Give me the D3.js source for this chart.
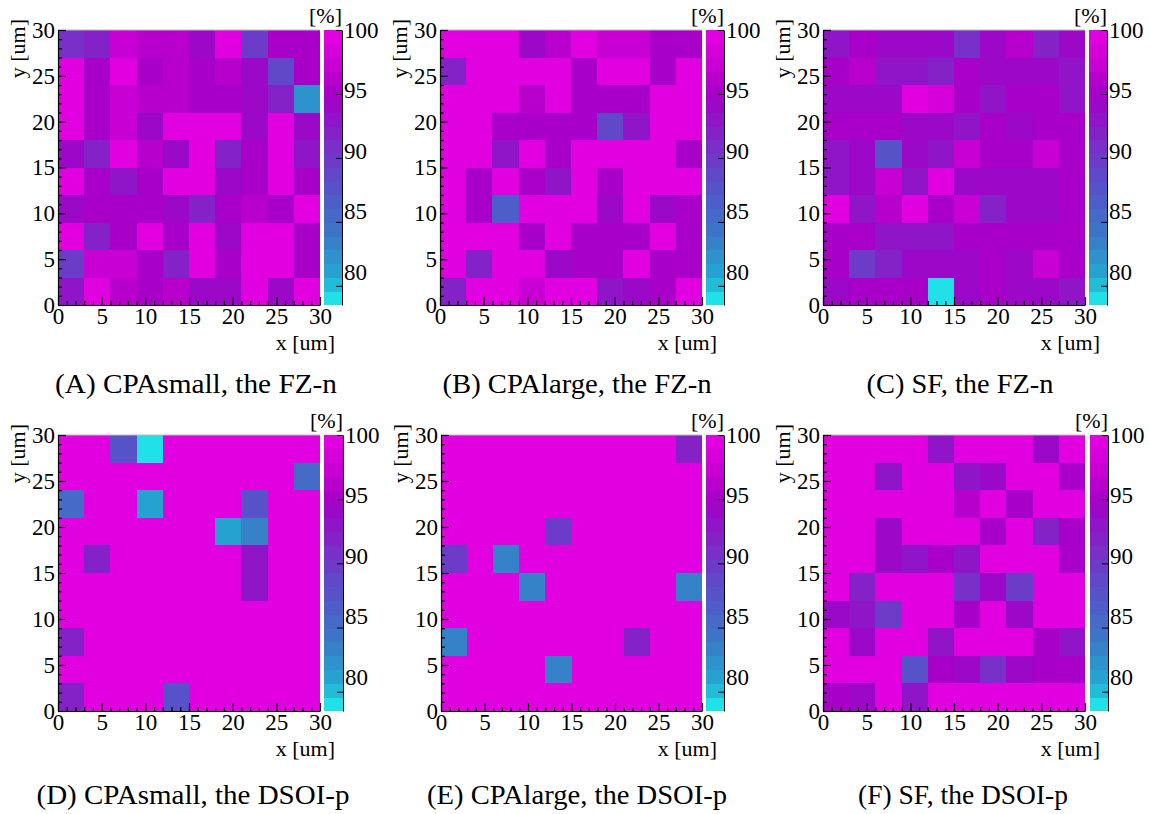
<!DOCTYPE html>
<html>
<head>
<meta charset="utf-8">
<script src="https://cdn.jsdelivr.net/npm/d3@7"></script>
<style>
  html, body { margin: 0; padding: 0; background: #fff; }
  svg { display: block; }
  svg text { font-family: "Liberation Serif", "Times New Roman", Times, serif; fill: #000; }
</style>
</head>
<body>
<svg id="chart" width="1149" height="814"></svg>
<script>
// ---------- data ----------
const xTicks = [0, 5, 10, 15, 20, 25, 30];
const yTicks = [0, 5, 10, 15, 20, 25, 30];
const zTicks = [80, 85, 90, 95, 100];
const zMin = 78.5, zMax = 100, nContours = 20;
const binEdges = [0, 3, 6, 9, 12, 15, 18, 21, 24, 27, 30];
const captions = [
  "(A) CPAsmall, the FZ-n", "(B) CPAlarge, the FZ-n", "(C) SF, the FZ-n",
  "(D) CPAsmall, the DSOI-p", "(E) CPAlarge, the DSOI-p", "(F) SF, the DSOI-p"
];
const xTitle = "x [um]", yTitle = "y [um]", zTitle = "[%]";

// efficiency [%], rows listed from top (y 27-30) to bottom (y 0-3), columns x 0-3 ... 27-30
const effA = [
  [90.5, 92, 97.5, 96.5, 96.5, 94.5, 99.5, 89.5, 95.5, 95.5],
  [99.5, 95.5, 99.5, 95.3, 96.5, 95, 96.5, 94, 89, 95.5],
  [99.5, 95, 97, 96.5, 96.5, 95.5, 95.5, 94.5, 92, 82.5],
  [99.5, 95.5, 97.5, 94.5, 99.5, 99.5, 99.5, 94.5, 99.5, 94],
  [94, 92, 99.5, 96.5, 94.5, 99.5, 91.5, 95, 99.5, 93],
  [99.5, 95.5, 92.5, 95, 99.5, 99.5, 94.5, 95.5, 99.5, 95],
  [94.5, 95.5, 95, 95, 94.5, 91.5, 95, 96.5, 95, 99.5],
  [99.5, 92, 95.5, 99.5, 95.5, 99.5, 94.5, 99.5, 99.5, 95.5],
  [90, 97.5, 97.5, 95.5, 92, 99.5, 95.5, 99.5, 99.5, 95.5],
  [93.5, 99.5, 96.5, 95.5, 96.5, 94.5, 94.5, 99.5, 94, 99.5]
];
const effB = [
  [99.5, 99.5, 99.5, 94, 96.5, 99.5, 97.5, 97.5, 95.5, 95.5],
  [92, 99.5, 99.5, 99.5, 99.5, 95.5, 99.5, 99.5, 95.5, 99.5],
  [99.5, 99.5, 99.5, 96.5, 99.5, 95.5, 95, 95.5, 99.5, 99.5],
  [99.5, 99.5, 95, 95, 95, 95.5, 89, 93.5, 99.5, 99.5],
  [99.5, 99.5, 93.5, 99.5, 95.5, 99.5, 99.5, 99.5, 99.5, 95],
  [99.5, 95, 99.5, 95.5, 92.5, 99.5, 95.5, 99.5, 99.5, 99.5],
  [99.5, 95.5, 87, 99.5, 99.5, 99.5, 94, 99.5, 94.5, 95],
  [99.5, 99.5, 99.5, 95.5, 99.5, 95, 95, 95.5, 99.5, 95],
  [99.5, 91.5, 99.5, 99.5, 94, 95, 95, 99.5, 95, 95],
  [92, 99.5, 99.5, 97, 99.5, 99.5, 93.5, 94, 95.5, 99.5]
];
const effC = [
  [93.5, 95, 94.5, 94, 94.5, 90.5, 94.5, 96.5, 92, 94.5],
  [95.5, 96.5, 93.5, 92.5, 91.5, 95, 94, 94, 94, 93.5],
  [94.5, 94.5, 94.5, 99, 98, 95, 92.5, 95, 95, 93.5],
  [95, 95, 95, 94.5, 94.5, 92.5, 95.5, 94.5, 95.5, 95],
  [93.5, 94, 87.5, 94.5, 93.5, 97.5, 95.5, 95.5, 97.5, 95],
  [93.5, 94, 97.5, 93.5, 99, 94.5, 94.5, 94, 94.5, 95],
  [99, 93.5, 96.5, 99, 95.5, 97.5, 92, 94.5, 94.5, 95.5],
  [95, 95, 93.5, 93.5, 93.5, 95.5, 95.5, 95, 95, 95],
  [95, 90, 92, 94.5, 94.5, 94.5, 95.5, 94.5, 97.5, 95],
  [94, 95, 95, 95, 79, 94.5, 95.5, 94, 94, 93.5]
];
const effD = [
  [99.5, 99.5, 88, 79, 99.5, 99.5, 99.5, 99.5, 99.5, 99.5],
  [99.5, 99.5, 99.5, 99.5, 99.5, 99.5, 99.5, 99.5, 99.5, 86],
  [86, 99.5, 99.5, 81.5, 99.5, 99.5, 99.5, 88, 99.5, 99.5],
  [99.5, 99.5, 99.5, 99.5, 99.5, 99.5, 81, 83.5, 99.5, 99.5],
  [99.5, 92, 99.5, 99.5, 99.5, 99.5, 99.5, 92.5, 99.5, 99.5],
  [99.5, 99.5, 99.5, 99.5, 99.5, 99.5, 99.5, 93.5, 99.5, 99.5],
  [99.5, 99.5, 99.5, 99.5, 99.5, 99.5, 99.5, 99.5, 99.5, 99.5],
  [92, 99.5, 99.5, 99.5, 99.5, 99.5, 99.5, 99.5, 99.5, 99.5],
  [99.5, 99.5, 99.5, 99.5, 99.5, 99.5, 99.5, 99.5, 99.5, 99.5],
  [92, 99.5, 99.5, 99.5, 88, 99.5, 99.5, 99.5, 99.5, 99.5]
];
const effE = [
  [99.5, 99.5, 99.5, 99.5, 99.5, 99.5, 99.5, 99.5, 99.5, 92],
  [99.5, 99.5, 99.5, 99.5, 99.5, 99.5, 99.5, 99.5, 99.5, 99.5],
  [99.5, 99.5, 99.5, 99.5, 99.5, 99.5, 99.5, 99.5, 99.5, 99.5],
  [99.5, 99.5, 99.5, 99.5, 89.5, 99.5, 99.5, 99.5, 99.5, 99.5],
  [89.5, 99.5, 83.5, 99.5, 99.5, 99.5, 99.5, 99.5, 99.5, 99.5],
  [99.5, 99.5, 99.5, 83.5, 99.5, 99.5, 99.5, 99.5, 99.5, 83.5],
  [99.5, 99.5, 99.5, 99.5, 99.5, 99.5, 99.5, 99.5, 99.5, 99.5],
  [83.5, 99.5, 99.5, 99.5, 99.5, 99.5, 99.5, 92, 99.5, 99.5],
  [99.5, 99.5, 99.5, 99.5, 83.5, 99.5, 99.5, 99.5, 99.5, 99.5],
  [99.5, 99.5, 99.5, 99.5, 99.5, 99.5, 99.5, 99.5, 99.5, 99.5]
];
const effF = [
  [99.5, 99.5, 99.5, 99.5, 93.5, 99.5, 99.5, 99.5, 94, 99.5],
  [99.5, 99.5, 92.5, 99.5, 99.5, 93.5, 94, 99.5, 99.5, 95],
  [99.5, 99.5, 99.5, 99.5, 99.5, 96.5, 99.5, 95.5, 99.5, 99.5],
  [99.5, 99.5, 94.5, 99.5, 99.5, 99.5, 95.5, 99.5, 91.5, 95.5],
  [99.5, 99.5, 94, 92.5, 95.5, 93.5, 99.5, 99.5, 99.5, 95.5],
  [99.5, 91.5, 99.5, 99.5, 99.5, 90.5, 94.5, 89.5, 99.5, 99.5],
  [94, 92.5, 90, 99.5, 99.5, 95.5, 99.5, 94.5, 99.5, 99.5],
  [99.5, 94, 99.5, 99.5, 92.5, 99.5, 99.5, 99.5, 95.5, 92.5],
  [99.5, 99.5, 99.5, 87.5, 95, 94.5, 91, 94.5, 95, 95],
  [95, 94, 99.5, 92.5, 99.5, 99.5, 99.5, 99.5, 99.5, 99.5]
];
const panelsData = [effA, effB, effC, effD, effE, effF];

// ---------- style / layout ----------
// 20 contour colours, lowest to highest
const palette = [
  "#20e0e8", "#20bcd8", "#26a2d0", "#2e92cc", "#3682c8", "#3e74c8", "#466ac8", "#4e5ec8",
  "#5852c8", "#6048c8", "#6c3cc8", "#7830c8", "#8422c8", "#9014c8", "#9c08c8", "#a800c8",
  "#b800cc", "#c800d4", "#d600da", "#e000e0"
];
const layout = [
  { x0: 58,  x1: 320,  y0: 30,  y1: 305, cb0: 324,  cb1: 342, capX: 196, capY: 393, capW: 282 },
  { x0: 440, x1: 702,  y0: 30,  y1: 305, cb0: 706,  cb1: 724, capX: 577, capY: 393, capW: 269 },
  { x0: 823, x1: 1085, y0: 30,  y1: 305, cb0: 1089, cb1: 1107, capX: 960, capY: 393, capW: 187 },
  { x0: 58,  x1: 320,  y0: 435, y1: 711, cb0: 324,  cb1: 343, capX: 193, capY: 804, capW: 313 },
  { x0: 441, x1: 702,  y0: 435, y1: 711, cb0: 706,  cb1: 724, capX: 577, capY: 804, capW: 300 },
  { x0: 823, x1: 1085, y0: 435, y1: 711, cb0: 1090, cb1: 1108, capX: 963, capY: 804, capW: 210 }
];
const tickFont = 23;
const serif = '"Liberation Serif", "Times New Roman", Times, serif';

const svg = d3.select("#chart");
const colour = d3.scaleQuantize().domain([zMin, zMax]).range(palette);
const levels = d3.range(nContours + 1).map(i => zMin + i * (zMax - zMin) / nContours);
const minorTicks = d3.range(0, 31).filter(v => v % 5 !== 0);

panelsData.forEach((grid, p) => {
  const L = layout[p];
  const g = svg.append("g");
  const x = d3.scaleLinear().domain([0, 30]).range([L.x0, L.x1]);
  const y = d3.scaleLinear().domain([0, 30]).range([L.y1, L.y0]);

  // cells
  const cells = [];
  grid.forEach((row, r) => row.forEach((v, c) => {
    const yb = grid.length - 1 - r;
    cells.push({ xa: binEdges[c], xb: binEdges[c + 1], ya: binEdges[yb], yb: binEdges[yb + 1], v });
  }));
  g.append("g").selectAll("rect").data(cells).join("rect")
    .attr("x", d => x(d.xa))
    .attr("y", d => y(d.yb))
    .attr("width", d => x(d.xb) - x(d.xa) + 0.3)
    .attr("height", d => y(d.ya) - y(d.yb) + 0.3)
    .attr("fill", d => colour(d.v))
    .attr("shape-rendering", "crispEdges");

  // thin frame line at top
  g.append("line").attr("x1", L.x0).attr("x2", L.x1).attr("y1", L.y0).attr("y2", L.y0)
    .attr("stroke", "#bbb").attr("stroke-width", 1);

  // x axis
  g.append("g").attr("transform", `translate(0,${L.y1})`)
    .call(d3.axisBottom(x).tickValues(xTicks).tickSizeInner(-8).tickSizeOuter(0).tickPadding(3));
  g.append("g").attr("transform", `translate(0,${L.y1})`)
    .call(d3.axisBottom(x).tickValues(minorTicks).tickSizeInner(-4).tickSizeOuter(0).tickFormat(""))
    .select(".domain").remove();
  // y axis
  g.append("g").attr("transform", `translate(${L.x0},0)`)
    .call(d3.axisLeft(y).tickValues(yTicks).tickSizeInner(-8).tickSizeOuter(0).tickPadding(3));
  g.append("g").attr("transform", `translate(${L.x0},0)`)
    .call(d3.axisLeft(y).tickValues(minorTicks).tickSizeInner(-4).tickSizeOuter(0).tickFormat(""))
    .select(".domain").remove();

  g.selectAll(".tick text").style("font-family", serif).style("font-size", tickFont + "px");
  g.selectAll(".domain, .tick line").attr("stroke", "#000").attr("stroke-width", 1.2);

  // axis titles
  g.append("text").attr("x", L.x1 + 15).attr("y", L.y1 + 45)
    .attr("text-anchor", "end").style("font-family", serif).style("font-size", "22px").text(xTitle);
  g.append("text")
    .attr("transform", `translate(${L.x0 - 33},${L.y0 - 11}) rotate(-90)`)
    .attr("text-anchor", "end").style("font-family", serif).style("font-size", "22px").text(yTitle);

  // colour bar
  const z = d3.scaleLinear().domain([zMin, zMax]).range([L.y1, L.y0]);
  const bands = d3.range(nContours).map(i => ({ lo: levels[i], hi: levels[i + 1] }));
  g.append("g").selectAll("rect").data(bands).join("rect")
    .attr("x", L.cb0)
    .attr("y", d => z(d.hi))
    .attr("width", L.cb1 - L.cb0)
    .attr("height", d => z(d.lo) - z(d.hi) + 0.3)
    .attr("fill", d => colour((d.lo + d.hi) / 2))
    .attr("shape-rendering", "crispEdges");
  const zAxis = g.append("g").attr("transform", `translate(${L.cb1},0)`)
    .call(d3.axisRight(z).tickValues(zTicks).tickSizeInner(-6).tickSizeOuter(0).tickFormat(""));
  zAxis.selectAll(".domain, .tick line").attr("stroke", "#000").attr("stroke-width", 1);
  // palette-axis labels (drawn slightly compressed toward the top as in the reference)
  const zLab = d3.scaleLinear().domain([80, 100]).range([L.y0 + 242, L.y0]);
  g.append("g").selectAll("text").data(zTicks).join("text")
    .attr("x", L.cb1 + 2)
    .attr("y", d => zLab(d))
    .attr("dy", "0.34em")
    .style("font-family", serif).style("font-size", tickFont + "px")
    .text(d => d);
  g.append("text").attr("x", L.cb1).attr("y", L.y0 - 7)
    .attr("text-anchor", "end").style("font-family", serif).style("font-size", "22px").text(zTitle);

  // caption
  svg.append("text").attr("x", L.capX).attr("y", L.capY)
    .attr("text-anchor", "middle").style("font-family", serif).style("font-size", "27px")
    .attr("textLength", L.capW).attr("lengthAdjust", "spacingAndGlyphs")
    .text(captions[p]);
});
</script>
</body>
</html>
